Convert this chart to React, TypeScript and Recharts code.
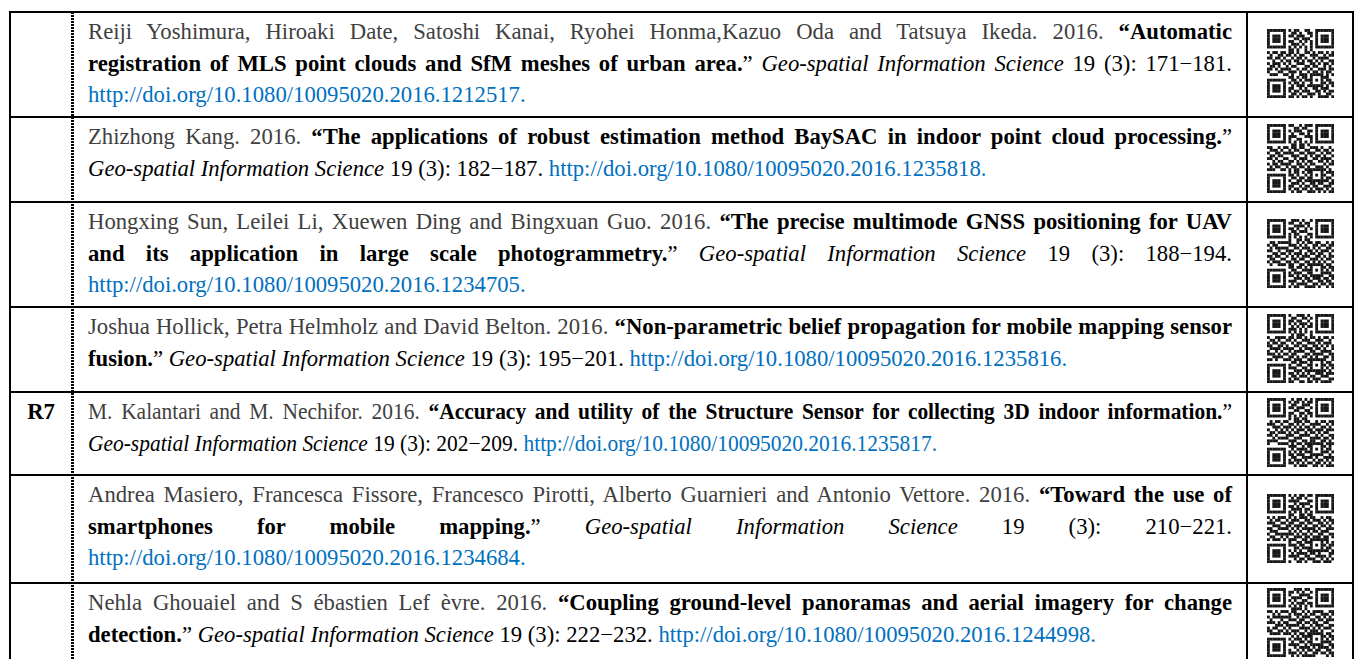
import { useLayoutEffect, useRef, useState } from 'react'
import { ScatterChart, Scatter, XAxis, YAxis } from 'recharts'

// citation pieces, one entry per table row
const rowLabels = ['', '', '', '', 'R7', '', '']

const authors = [
  'Reiji Yoshimura, Hiroaki Date, Satoshi Kanai, Ryohei Honma,Kazuo Oda and Tatsuya Ikeda. 2016.',
  'Zhizhong Kang. 2016.',
  'Hongxing Sun, Leilei Li, Xuewen Ding and Bingxuan Guo. 2016.',
  'Joshua Hollick, Petra Helmholz and David Belton. 2016.',
  'M. Kalantari and M. Nechifor. 2016.',
  'Andrea Masiero, Francesca Fissore, Francesco Pirotti, Alberto Guarnieri and Antonio Vettore. 2016.',
  'Nehla Ghouaiel and S ébastien Lef èvre. 2016.',
]

// title split where the printed line breaks
const titleLines = [
  ['Automatic', 'registration of MLS point clouds and SfM meshes of urban area.'],
  ['The applications of robust estimation method BaySAC in indoor point cloud processing.'],
  ['The precise multimode GNSS positioning for UAV', 'and its application in large scale photogrammetry.'],
  ['Non-parametric belief propagation for mobile mapping sensor', 'fusion.'],
  ['Accuracy and utility of the Structure Sensor for collecting 3D indoor information.'],
  ['Toward the use of', 'smartphones for mobile mapping.'],
  ['Coupling ground-level panoramas and aerial imagery for change', 'detection.'],
]

const journal = 'Geo-spatial Information Science'
const issue = '19 (3):'
const pageRanges = ['171−181.', '182−187.', '188−194.', '195−201.', '202−209.', '210−221.', '222−232.']

const dois = [
  'http://doi.org/10.1080/10095020.2016.1212517.',
  'http://doi.org/10.1080/10095020.2016.1235818.',
  'http://doi.org/10.1080/10095020.2016.1234705.',
  'http://doi.org/10.1080/10095020.2016.1235816.',
  'http://doi.org/10.1080/10095020.2016.1235817.',
  'http://doi.org/10.1080/10095020.2016.1234684.',
  'http://doi.org/10.1080/10095020.2016.1244998.',
]
const doiOwnLine = [true, false, true, false, false, true, false]

// QR modules, 25 x 25 (1 = dark)
const qrCodes = [
  [
    '1111111 0 101100110 0 1111111',
    '1000001 0 011010011 0 1000001',
    '1011101 0 110111001 0 1011101',
    '1011101 0 001101110 0 1011101',
    '1011101 0 110010101 0 1011101',
    '1000001 0 011101001 0 1000001',
    '1111111 0 101010101 0 1111111',
    '00000000 110100101 00000000',
    '101101 1 011010011010110101',
    '010011 0 110101100111001011',
    '110110 1 001011010010111100',
    '001001 0 110110101101010011',
    '101110 1 010011100110101101',
    '011010 0 101100011011001010',
    '110101 1 110010110100111011',
    '100011 0 011101001011010110',
    '011100 1 101001110 11111 0101',
    '00000000 11010110 10001 1100',
    '1111111 0 01101011 10101 0110',
    '1000001 0 10110100 10001 1011',
    '1011101 0 01011101 11111 0101',
    '1011101 0 11001010 01101 1100',
    '1011101 0 10110111 00110 1011',
    '1000001 0 01101001 11010 0110',
    '1111111 0 11010110 10011 1101',
  ],
  [
    '1111111 0 110010111 0 1111111',
    '1000001 0 001101100 0 1000001',
    '1011101 0 101110011 0 1011101',
    '1011101 0 010011010 0 1011101',
    '1011101 0 111000111 0 1011101',
    '1000001 0 100110001 0 1000001',
    '1111111 0 101010101 0 1111111',
    '00000000 011011010 00000000',
    '110010 1 101101100111010010',
    '011101 0 010110011001101101',
    '100110 1 111001101110010110',
    '011011 0 001110010101101001',
    '110100 1 100101110011011110',
    '001011 0 011010101100110101',
    '101101 1 110011010110001011',
    '010110 0 101101101001110100',
    '111001 1 010110011 11111 1010',
    '00000000 10110101 10001 0111',
    '1111111 0 11010010 10101 1001',
    '1000001 0 01101101 10001 0110',
    '1011101 0 10011011 11111 1101',
    '1011101 0 01110100 11011 0011',
    '1011101 0 11001011 01100 1110',
    '1000001 0 10110110 10111 0101',
    '1111111 0 01011001 11010 1011',
  ],
  [
    '1111111 0 011101001 0 1111111',
    '1000001 0 110010110 0 1000001',
    '1011101 0 001111010 0 1011101',
    '1011101 0 110100101 0 1011101',
    '1011101 0 011011100 0 1011101',
    '1000001 0 101100011 0 1000001',
    '1111111 0 101010101 0 1111111',
    '00000000 100110110 00000000',
    '011011 1 110010101101100101',
    '101100 0 011101010011011011',
    '010111 1 100110111010100110',
    '110010 0 111001001101011101',
    '001101 1 010111010110110010',
    '110110 0 101010111001101011',
    '011001 1 001101100111010110',
    '101110 0 110110011010101001',
    '010011 1 011001101 11111 0110',
    '00000000 11011010 10001 1011',
    '1111111 0 01100111 10101 0101',
    '1000001 0 10111001 10001 1110',
    '1011101 0 11010110 11111 0011',
    '1011101 0 00111011 01110 1101',
    '1011101 0 11100101 10011 0110',
    '1000001 0 01011110 01101 1011',
    '1111111 0 10110011 11010 0101',
  ],
  [
    '1111111 0 100111010 0 1111111',
    '1000001 0 011001101 0 1000001',
    '1011101 0 110110010 0 1011101',
    '1011101 0 101011101 0 1011101',
    '1011101 0 010101011 0 1011101',
    '1000001 0 111010100 0 1000001',
    '1111111 0 101010101 0 1111111',
    '00000000 010111001 00000000',
    '100111 1 011011010110101101',
    '011010 0 110100111001110010',
    '101101 1 001011001110101110',
    '110011 0 100110110011010101',
    '011110 1 111001011101101001',
    '100101 0 010111100110011110',
    '111010 1 101100011011110011',
    '001111 0 011010110101001101',
    '110100 1 110111001 11111 1001',
    '00000000 01101110 10001 0110',
    '1111111 0 10011001 10101 1011',
    '1000001 0 11100110 10001 0101',
    '1011101 0 00111011 11111 1010',
    '1011101 0 11010101 00111 0111',
    '1011101 0 01101110 11001 1100',
    '1000001 0 10110001 01110 0011',
    '1111111 0 11001101 10101 1110',
  ],
  [
    '1111111 0 010110101 0 1111111',
    '1000001 0 101101011 0 1000001',
    '1011101 0 011001110 0 1011101',
    '1011101 0 110111001 0 1011101',
    '1011101 0 001100110 0 1011101',
    '1000001 0 110011011 0 1000001',
    '1111111 0 101010101 0 1111111',
    '00000000 101101100 00000000',
    '010110 1 100111011001011011',
    '111001 0 011010100111100101',
    '001110 1 110101011010011010',
    '100101 0 101011101101110111',
    '011011 1 010110010110101100',
    '110100 0 111001111001010011',
    '001011 1 100111000111101101',
    '111100 0 011100110110011010',
    '100011 1 101011011 11111 0111',
    '00000000 11100101 10001 1010',
    '1111111 0 01011110 10101 0110',
    '1000001 0 10101011 10001 1101',
    '1011101 0 11011100 11111 0010',
    '1011101 0 01100111 10100 1111',
    '1011101 0 10111010 01011 0101',
    '1000001 0 11010101 10110 1010',
    '1111111 0 00101110 01101 0111',
  ],
  [
    '1111111 0 101011011 0 1111111',
    '1000001 0 010110100 0 1000001',
    '1011101 0 111100011 0 1011101',
    '1011101 0 001011110 0 1011101',
    '1011101 0 110101001 0 1011101',
    '1000001 0 011110110 0 1000001',
    '1111111 0 101010101 0 1111111',
    '00000000 110011011 00000000',
    '101011 1 010101110110010110',
    '010110 0 101110011011101011',
    '111001 1 011001101100110101',
    '001110 0 110111010011011010',
    '110011 1 101010111110100111',
    '011100 0 010101001011011100',
    '100111 1 111010110100110011',
    '011001 0 100111011011101101',
    '101110 1 011100110 11111 1100',
    '00000000 10011011 10001 0101',
    '1111111 0 11101100 10101 1011',
    '1000001 0 00110111 10001 0110',
    '1011101 0 10101001 11111 1101',
    '1011101 0 01011110 11010 0011',
    '1011101 0 11110011 00111 1010',
    '1000001 0 00101101 11001 0101',
    '1111111 0 10011010 01110 1110',
  ],
  [
    '1111111 0 001110110 0 1111111',
    '1000001 0 110101001 0 1000001',
    '1011101 0 100011110 0 1011101',
    '1011101 0 011110011 0 1011101',
    '1011101 0 101001100 0 1011101',
    '1000001 0 010111011 0 1000001',
    '1111111 0 101010101 0 1111111',
    '00000000 011110100 00000000',
    '110101 1 101100101011110011',
    '001010 0 010111010110011101',
    '101111 1 110010111001101010',
    '010001 0 011101100110110111',
    '111010 1 100011011011001100',
    '000111 0 111110100101110011',
    '101100 1 010001111010101110',
    '110011 0 101110010111010001',
    '011110 1 110101101 11111 0110',
    '00000000 01010111 10001 1011',
    '1111111 0 10111010 10101 0101',
    '1000001 0 01001101 10001 1110',
    '1011101 0 11110010 11111 0011',
    '1011101 0 00101111 01011 1101',
    '1011101 0 10010101 10110 0110',
    '1000001 0 11101010 01101 1011',
    '1111111 0 01010111 11000 0101',
  ],
]

// layout
const W = 1363
const H = 659
const rowTops = [11, 116, 201, 306, 391, 474, 582]
const rowHeights = [105, 85, 105, 85, 83, 108, 81]
const rowCondense = [1, 1, 1, 1, 0.945, 1, 1]
const FONT = '"Liberation Serif", "Times New Roman", serif'
const FS = 22.7
const LH = 31.5
const PAD_TOP = 5
const TEXT_X = 88
const TEXT_W = 1144
const QR_N = 25
const QR_W = 67
const QR_H = 69

type Seg = [string, string]

const segStyle: Record<string, React.CSSProperties> = {
  a: { color: '#404040' },
  b: { color: '#000', fontWeight: 'bold' },
  k: { color: '#000' },
  i: { color: '#000', fontStyle: 'italic' },
  u: { color: '#0070c0' },
}

function buildLines(i: number): Seg[][] {
  const t = titleLines[i]
  const ref: Seg[] = [['i', journal], ['k', ` ${issue} ${pageRanges[i]}`]]
  const doi: Seg = ['u', dois[i]]
  if (t.length === 1) {
    return [
      [['a', authors[i] + ' '], ['b', '“' + t[0]], ['k', '”']],
      [...ref, ['k', ' '], doi],
    ]
  }
  const first: Seg[] = [['a', authors[i] + ' '], ['b', '“' + t[0]]]
  const second: Seg[] = [['b', t[1]], ['k', '” '], ...ref]
  return doiOwnLine[i] ? [first, second, [doi]] : [first, [...second, ['k', ' '], doi]]
}

function Segs({ segs }: { segs: Seg[] }) {
  return (
    <>
      {segs.map(([k, txt], n) => (
        <span key={n} style={segStyle[k]}>
          {txt}
        </span>
      ))}
    </>
  )
}

// one printed line: justified unless last, squeezed horizontally when it would not fit
function TextLine({ segs, last, condense }: { segs: Seg[]; last: boolean; condense: number }) {
  const probe = useRef<HTMLSpanElement>(null)
  const [scale, setScale] = useState(condense)
  useLayoutEffect(() => {
    if (!probe.current) return
    const w = probe.current.getBoundingClientRect().width
    setScale(Math.min(condense, (TEXT_W - 1) / w))
  }, [condense])
  return (
    <div style={{ position: 'relative', height: LH }}>
      <span style={{ position: 'absolute', visibility: 'hidden', whiteSpace: 'nowrap' }} ref={probe}>
        <Segs segs={segs} />
      </span>
      <div
        style={{
          width: TEXT_W / scale,
          transform: `scaleX(${scale})`,
          transformOrigin: 'left top',
          whiteSpace: 'nowrap',
          textAlign: last ? 'left' : 'justify',
          textAlignLast: last ? 'left' : 'justify',
        }}
      >
        <Segs segs={segs} />
      </div>
    </div>
  )
}

function QrCode({ rows }: { rows: string[] }) {
  const cells: { x: number; y: number }[] = []
  rows.forEach((line, r) => {
    line.replace(/ /g, '').split('').forEach((ch, c) => {
      if (ch === '1') cells.push({ x: c + 0.5, y: r + 0.5 })
    })
  })
  const mw = QR_W / QR_N
  const mh = QR_H / QR_N
  return (
    <ScatterChart width={QR_W} height={QR_H} margin={{ top: 0, right: 0, bottom: 0, left: 0 }}>
      <XAxis type="number" dataKey="x" domain={[0, QR_N]} hide />
      <YAxis type="number" dataKey="y" domain={[0, QR_N]} reversed hide />
      <Scatter
        data={cells}
        isAnimationActive={false}
        shape={(p: any) => (
          <rect x={p.cx - mw / 2} y={p.cy - mh / 2} width={mw + 0.15} height={mh + 0.15} fill="#151515" />
        )}
      />
    </ScatterChart>
  )
}

export default function App() {
  const line = (style: React.CSSProperties, key?: number) => (
    <div key={key} style={{ position: 'absolute', background: '#000', ...style }} />
  )
  return (
    <div
      style={{
        position: 'absolute',
        left: 0,
        top: 0,
        width: W,
        height: H,
        overflow: 'hidden',
        background: '#fff',
        fontFamily: FONT,
        fontSize: FS,
        lineHeight: `${LH}px`,
      }}
    >
      {/* borders */}
      {line({ left: 9, top: 11, width: 1345, height: 1.5 })}
      {rowTops.slice(1).map((t, n) => line({ left: 9, top: t, width: 1345, height: 1.5 }, n))}
      {line({ left: 9, top: 11, width: 2, height: H })}
      {line({ left: 1246, top: 11, width: 2, height: H })}
      {line({ left: 1352, top: 11, width: 2, height: H })}
      <div
        style={{
          position: 'absolute',
          left: 71,
          top: 12,
          width: 3,
          height: H,
          background: 'repeating-linear-gradient(to bottom, #000 0 2px, transparent 2px 3px)',
        }}
      />

      {rowTops.map((top, i) => {
        const lines = buildLines(i)
        return (
          <div key={i}>
            {rowLabels[i] && (
              <div
                style={{
                  position: 'absolute',
                  left: 11,
                  width: 60,
                  top: top + PAD_TOP,
                  textAlign: 'center',
                  fontWeight: 'bold',
                }}
              >
                {rowLabels[i]}
              </div>
            )}
            <div style={{ position: 'absolute', left: TEXT_X, top: top + PAD_TOP, width: TEXT_W }}>
              {lines.map((segs, j) => (
                <TextLine key={j} segs={segs} last={j === lines.length - 1} condense={rowCondense[i]} />
              ))}
            </div>
            <div
              style={{
                position: 'absolute',
                left: 1267,
                top: top + (rowHeights[i] - QR_H) / 2,
                width: QR_W,
                height: QR_H,
              }}
            >
              <QrCode rows={qrCodes[i]} />
            </div>
          </div>
        )
      })}
    </div>
  )
}
